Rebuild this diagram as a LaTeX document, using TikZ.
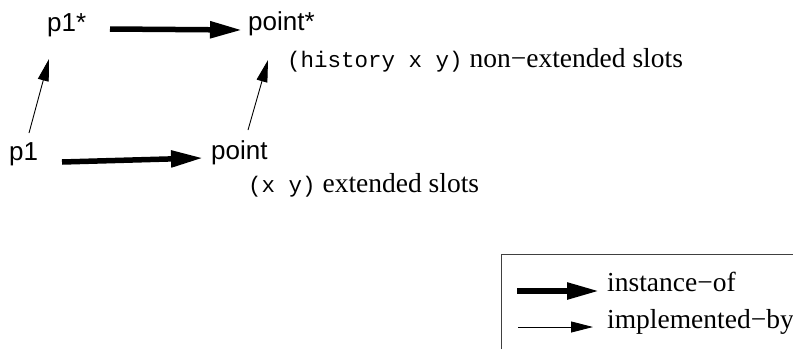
\documentclass[tikz,border=0pt]{standalone}
\usepackage{fontspec}
\setmainfont{Liberation Serif}
\setmonofont{Liberation Mono}
\newfontfamily\helv{Liberation Sans}
\usetikzlibrary{arrows.meta}
\newcommand{\cmfont}{\ttfamily\fontsize{22.5}{26}\selectfont}
\tikzset{
  lbl/.style={inner sep=0pt, anchor=base west, font=\helv\fontsize{26}{30}\selectfont},
  txt/.style={inner sep=0pt, anchor=base west, font=\fontsize{27.5}{31}\selectfont},
  inst/.style={line width=5.5pt, -{Triangle[length=32pt,width=16pt]}},
  impl/.style={line width=0.9pt, -{Triangle[length=22pt,width=11pt]}}
}
\begin{document}
\begin{tikzpicture}[x=1pt,y=-1pt]
\useasboundingbox (0,0) rectangle (793,349);
% nodes
\node[lbl] (p1s) at (47,31) {p1*};
\node[lbl] (pts) at (248,30) {point*};
\node[lbl] (p1) at (9,160) {p1};
\node[lbl] (pt) at (211,159) {point};
\node[txt] (hist) at (287,67) {{\cmfont(history x y)} non−extended slots};
\node[txt] (ext) at (248,192) {{\cmfont(x y)} extended slots};
% connector endpoints
\coordinate (a1) at (110,29);
\coordinate (a2) at (242,30);
\coordinate (b1) at (62,162);
\coordinate (b2) at (203,158);
\coordinate (c1) at (29,133);
\coordinate (c2) at (49,59);
\coordinate (d1) at (248,130);
\coordinate (d2) at (268,60);
\draw[inst] (a1) -- (a2);
\draw[inst] (b1) -- (b2);
\draw[impl] (c1) -- (c2);
\draw[impl] (d1) -- (d2);
% legend
\draw[line width=1pt, draw=black!75] (501,349) -- (501,254) -- (793,254);
\coordinate (l1) at (517,291);
\coordinate (l2) at (599,291);
\coordinate (m1) at (518,327);
\coordinate (m2) at (593,327);
\draw[inst] (l1) -- (l2);
\draw[impl] (m1) -- (m2);
\node[txt] (li) at (607,291) {instance−of};
\node[txt] (lm) at (607,328) {implemented−by};
\end{tikzpicture}
\end{document}
